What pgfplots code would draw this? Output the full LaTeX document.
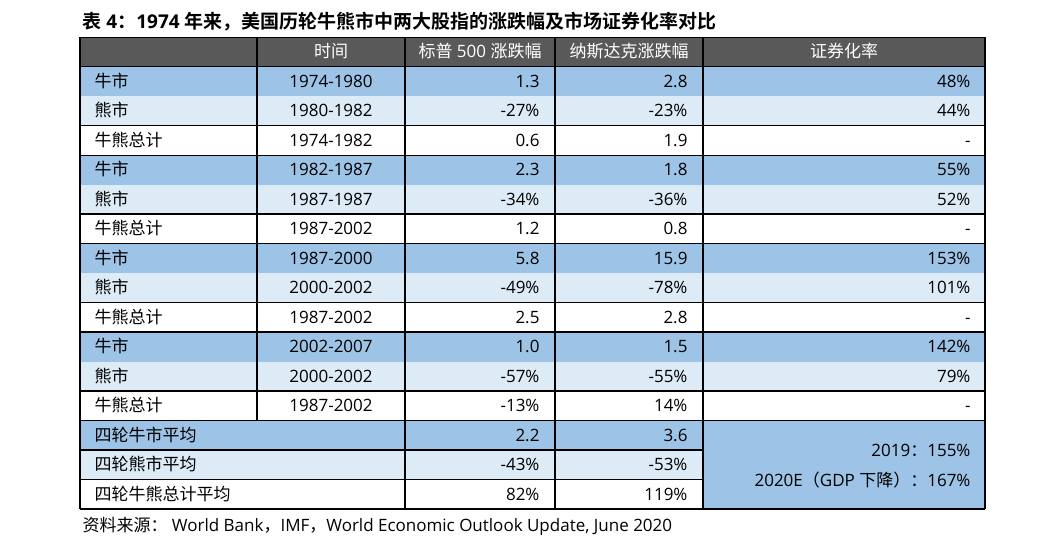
\documentclass[border=0pt]{standalone}
\usepackage{pgfplots}
\pgfplotsset{compat=1.18}
\usepackage{fontspec}
\setmainfont{Open Sans}
\newfontfamily\cjk{Noto Sans CJK SC}[BoldFont={Noto Sans CJK SC Bold}]
\definecolor{hdr}{HTML}{595959}
\definecolor{bA}{HTML}{9DC3E6}
\definecolor{bB}{HTML}{DDEBF7}
\newcommand{\rowfill}[2]{\fill[#2] (axis cs:80,{66.7+29.49*((#1)-1)}) rectangle (axis cs:985,{66.7+29.49*(#1)});}
\newcommand{\rowtext}[5]{%
 \node[anchor=base west] at (axis cs:91,{66.7+29.49*((#1)-0.5)+6}) {\cjk #2};
 \node[anchor=base] at (axis cs:331,{66.7+29.49*((#1)-0.5)+6}) {#3};
 \rowvals{#1}{#4}{#5}}
\newcommand{\rowvals}[3]{%
 \node[anchor=base east] at (axis cs:543,{66.7+29.49*((#1)-0.5)+6}) {#2};
 \node[anchor=base east] at (axis cs:691,{66.7+29.49*((#1)-0.5)+6}) {#3};}
\newcommand{\secval}[2]{\node[anchor=base east] at (axis cs:974,{66.7+29.49*((#1)-0.5)+6}) {#2};}
\newcommand{\hl}[1]{\draw[line width=1.3pt] (axis cs:80,{66.7+29.49*(#1)}) -- (axis cs:985,{66.7+29.49*(#1)});}
\begin{document}
\begin{tikzpicture}
\begin{axis}[
  scale only axis, width=1054pt, height=545pt,
  xmin=0, xmax=1054, ymin=0, ymax=545, y dir=reverse,
  hide axis, clip=false]
\path (axis cs:0,0) rectangle (axis cs:1054,545);
% header
\fill[hdr] (axis cs:80,37.5) rectangle (axis cs:985,66.7);
% fills
\rowfill{1}{bA}\rowfill{2}{bB}
\rowfill{4}{bA}\rowfill{5}{bB}
\rowfill{7}{bA}\rowfill{8}{bB}
\rowfill{10}{bA}\rowfill{11}{bB}
\rowfill{13}{bA}\rowfill{14}{bB}
\fill[bA] (axis cs:703,{66.7+29.49*12}) rectangle (axis cs:985,{66.7+29.49*15});
% lines
\begin{scope}[font=\fontsize{17}{20}\selectfont]
\draw[line width=1.3pt] (axis cs:80,37.5) -- (axis cs:985,37.5);
\hl{0}\hl{2}\hl{3}\hl{5}\hl{6}\hl{8}\hl{9}\hl{11}\hl{12}
\draw[line width=1.3pt] (axis cs:80,{66.7+29.49*13}) -- (axis cs:703,{66.7+29.49*13});
\draw[line width=1.3pt] (axis cs:80,{66.7+29.49*14}) -- (axis cs:703,{66.7+29.49*14});
\hl{15}
\draw[line width=1.3pt] (axis cs:80,37.5) -- (axis cs:80,{66.7+29.49*15});
\draw[line width=1.3pt] (axis cs:257,37.5) -- (axis cs:257,{66.7+29.49*12});
\draw[line width=1.3pt] (axis cs:405,37.5) -- (axis cs:405,{66.7+29.49*15});
\draw[line width=1.3pt] (axis cs:555,37.5) -- (axis cs:555,{66.7+29.49*15});
\draw[line width=1.3pt] (axis cs:703,37.5) -- (axis cs:703,{66.7+29.49*15});
\draw[line width=1.3pt] (axis cs:985,37.5) -- (axis cs:985,{66.7+29.49*15});
% header text
\node[anchor=base,white] at (axis cs:331,58) {\cjk 时间};
\node[anchor=base,white] at (axis cs:480,58) {{\cjk 标普} 500 {\cjk 涨跌幅}};
\node[anchor=base,white] at (axis cs:629,58) {\cjk 纳斯达克涨跌幅};
\node[anchor=base,white] at (axis cs:844,58) {\cjk 证券化率};
% rows
\rowtext{1}{牛市}{1974-1980}{1.3}{2.8}\secval{1}{48\%}
\rowtext{2}{熊市}{1980-1982}{-27\%}{-23\%}\secval{2}{44\%}
\rowtext{3}{牛熊总计}{1974-1982}{0.6}{1.9}\secval{3}{-}
\rowtext{4}{牛市}{1982-1987}{2.3}{1.8}\secval{4}{55\%}
\rowtext{5}{熊市}{1987-1987}{-34\%}{-36\%}\secval{5}{52\%}
\rowtext{6}{牛熊总计}{1987-2002}{1.2}{0.8}\secval{6}{-}
\rowtext{7}{牛市}{1987-2000}{5.8}{15.9}\secval{7}{153\%}
\rowtext{8}{熊市}{2000-2002}{-49\%}{-78\%}\secval{8}{101\%}
\rowtext{9}{牛熊总计}{1987-2002}{2.5}{2.8}\secval{9}{-}
\rowtext{10}{牛市}{2002-2007}{1.0}{1.5}\secval{10}{142\%}
\rowtext{11}{熊市}{2000-2002}{-57\%}{-55\%}\secval{11}{79\%}
\rowtext{12}{牛熊总计}{1987-2002}{-13\%}{14\%}\secval{12}{-}
\rowtext{13}{四轮牛市平均}{}{2.2}{3.6}
\rowtext{14}{四轮熊市平均}{}{-43\%}{-53\%}
\rowtext{15}{四轮牛熊总计平均}{}{82\%}{119\%}
\node[anchor=base east] at (axis cs:974,456) {2019{\cjk ：}155\%};
\node[anchor=base east] at (axis cs:974,486) {2020E{\cjk （}GDP {\cjk 下降）：}167\%};
% source
\node[anchor=base west] at (axis cs:79,531) {{\cjk 资料来源：} World Bank{\cjk ，}IMF{\cjk ，}World Economic Outlook Update, June 2020};
\end{scope}
% title
\node[anchor=base west,font=\fontsize{19}{22}\selectfont\bfseries] at (axis cs:79,29) {{\cjk 表} 4{\cjk ：}1974 {\cjk 年来，美国历轮牛熊市中两大股指的涨跌幅及市场证券化率对比}};
\end{axis}
\end{tikzpicture}
\end{document}
